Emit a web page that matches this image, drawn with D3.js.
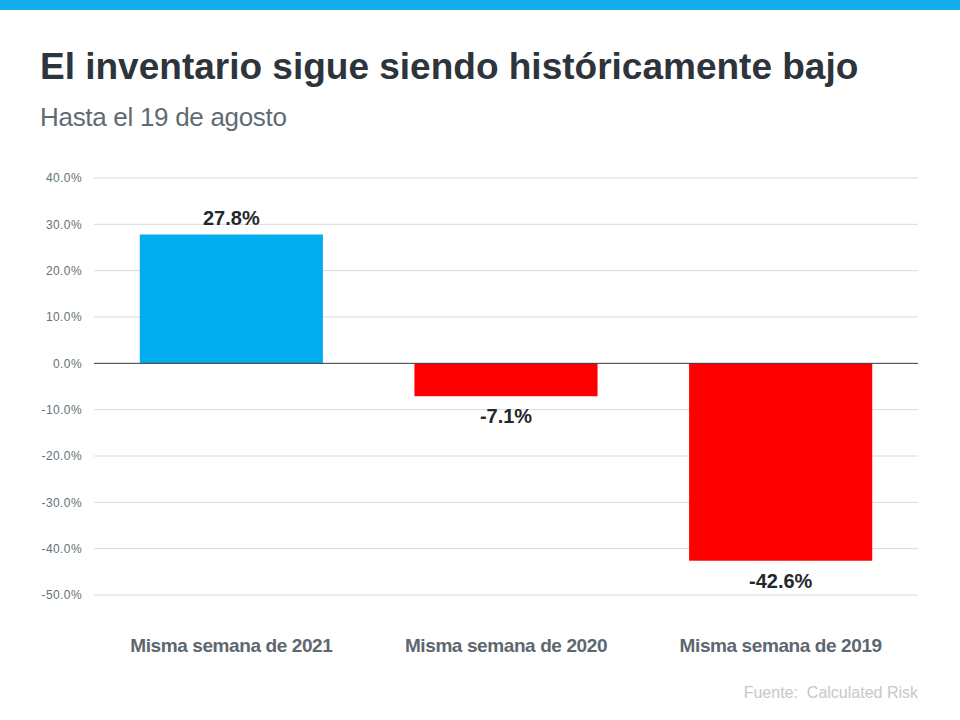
<!DOCTYPE html>
<html><head><meta charset="utf-8">
<script src="https://cdn.jsdelivr.net/npm/d3@7"></script>
<style>body{margin:0;background:#fff;} svg{display:block;font-family:"Liberation Sans",Arial,sans-serif;}</style>
</head><body>
<svg id="c" width="960" height="720"></svg>
<script>
const categories = ["Misma semana de 2021", "Misma semana de 2020", "Misma semana de 2019"];
const values = [27.8, -7.1, -42.6];
const yTicks = [40, 30, 20, 10, 0, -10, -20, -30, -40, -50];
const title = "El inventario sigue siendo históricamente bajo";
const subtitle = "Hasta el 19 de agosto";
const source = "Fuente:  Calculated Risk";

const svg = d3.select("#c");
svg.append("rect").attr("x",0).attr("y",0).attr("width",960).attr("height",10).attr("fill","#13adee");
svg.append("text").attr("x",40).attr("y",79).attr("font-size",37).attr("font-weight","bold").attr("fill","#2d343c").text(title);
svg.append("text").attr("x",40).attr("y",126).attr("font-size",26).attr("fill","#5f6b73").attr("letter-spacing","-0.3px").text(subtitle);

const x = d3.scaleBand().domain(categories).range([94,918]).paddingInner(1/3).paddingOuter(1/6);
const y = d3.scaleLinear().domain([-50,40]).range([595,178]);

const grid = svg.append("g");
grid.selectAll("line").data(yTicks.filter(d=>d!==0)).join("line")
  .attr("x1",94).attr("x2",918).attr("y1",d=>y(d)).attr("y2",d=>y(d))
  .attr("stroke","#d9d9d9").attr("stroke-width",1);

const yAxis = svg.append("g").attr("transform","translate(94,0)")
  .call(d3.axisLeft(y).tickValues(yTicks).tickFormat(d=>d.toFixed(1)+"%").tickSize(0).tickPadding(12));
yAxis.select(".domain").remove();
yAxis.selectAll("text").attr("font-size",12).attr("fill","#66717a").attr("font-family","Liberation Sans, Arial, sans-serif").attr("letter-spacing","0.4px");

svg.append("g").selectAll("rect").data(values).join("rect")
  .attr("x",(d,i)=>x(categories[i])).attr("width",x.bandwidth())
  .attr("y",d=>y(Math.max(0,d))).attr("height",d=>Math.abs(y(d)-y(0)))
  .attr("fill",d=>d>=0?"#00adef":"#ff0000");

svg.append("line").attr("x1",94).attr("x2",918).attr("y1",y(0)).attr("y2",y(0)).attr("stroke","#333a40").attr("stroke-width",1);

svg.append("g").selectAll("text").data(values).join("text")
  .attr("x",(d,i)=>x(categories[i])+x.bandwidth()/2)
  .attr("y",d=>d>=0?y(d)-10:y(d)+27)
  .attr("text-anchor","middle").attr("font-size",20).attr("font-weight","bold").attr("fill","#23282d")
  .text(d=>d.toFixed(1)+"%");

const xAxis = svg.append("g").attr("transform","translate(0,652)")
  .call(d3.axisBottom(x).tickSize(0).tickPadding(0));
xAxis.select(".domain").remove();
xAxis.selectAll("text").attr("font-size",19).attr("font-weight","bold").attr("fill","#5c6770").attr("font-family","Liberation Sans, Arial, sans-serif").attr("letter-spacing","-0.4px").attr("dy","0");

svg.append("text").attr("x",918).attr("y",698).attr("text-anchor","end").attr("font-size",16).attr("fill","#c3c9cd").style("white-space","pre").text(source);
</script>
</body></html>
